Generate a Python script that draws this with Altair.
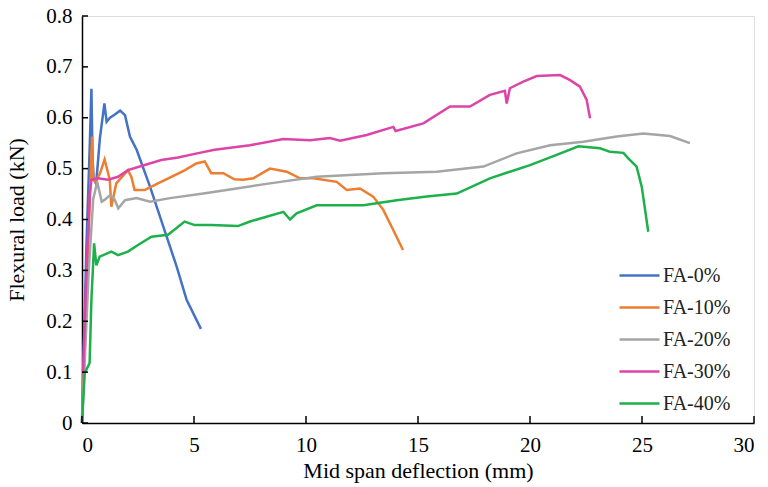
import altair as alt
import pandas as pd

# ---- data ----
fa0_x = [0.0, 0.05, 0.2, 0.35, 0.42, 0.47, 0.52, 0.63, 0.8, 1.0, 1.1, 1.25, 1.45, 1.7, 1.92, 2.14, 2.44, 3.04, 3.63, 4.23, 4.67, 5.31]
fa0_y = [0.0, 0.1, 0.35, 0.55, 0.657, 0.52, 0.48, 0.47, 0.56, 0.628, 0.592, 0.60, 0.606, 0.614, 0.605, 0.563, 0.537, 0.464, 0.386, 0.307, 0.242, 0.185]

fa10_x = [0.0, 0.1, 0.3, 0.45, 0.5, 0.6, 0.8, 1.01, 1.24, 1.31, 1.53, 2.05, 2.2, 2.35, 2.8, 3.39, 3.99, 4.6, 5.1, 5.48, 5.77, 6.31, 6.8, 7.2, 7.65, 8.39, 9.14, 9.73, 10.33, 11.37, 11.82, 12.41, 13.0, 13.45, 13.9, 14.33]
fa10_y = [0.0, 0.12, 0.38, 0.563, 0.478, 0.475, 0.49, 0.518, 0.478, 0.425, 0.471, 0.497, 0.484, 0.458, 0.458, 0.471, 0.484, 0.497, 0.51, 0.514, 0.491, 0.491, 0.479, 0.478, 0.481, 0.50, 0.494, 0.481, 0.481, 0.474, 0.458, 0.461, 0.445, 0.419, 0.379, 0.34]

fa20_x = [0.0, 0.1, 0.3, 0.5, 0.68, 0.88, 1.05, 1.25, 1.45, 1.62, 1.92, 2.44, 3.04, 3.93, 5.42, 6.9, 8.39, 10.48, 13.45, 15.83, 17.92, 19.4, 20.9, 22.38, 23.87, 25.06, 26.25, 27.14]
fa20_y = [0.0, 0.1, 0.3, 0.44, 0.474, 0.435, 0.44, 0.448, 0.44, 0.422, 0.438, 0.442, 0.435, 0.442, 0.451, 0.461, 0.471, 0.484, 0.491, 0.494, 0.504, 0.53, 0.546, 0.553, 0.563, 0.569, 0.564, 0.55]

fa30_x = [0.0, 0.05, 0.2, 0.35, 0.42, 0.71, 1.16, 1.61, 2.05, 2.8, 3.54, 4.29, 5.03, 5.92, 7.5, 8.99, 10.18, 11.07, 11.52, 12.71, 13.9, 14.0, 15.24, 16.43, 17.32, 18.21, 18.88, 18.96, 19.1, 19.7, 20.3, 21.34, 21.79, 22.23, 22.53, 22.68]
fa30_y = [0.1, 0.1, 0.3, 0.45, 0.478, 0.481, 0.478, 0.484, 0.497, 0.507, 0.517, 0.522, 0.529, 0.537, 0.546, 0.558, 0.556, 0.56, 0.555, 0.566, 0.582, 0.574, 0.589, 0.622, 0.622, 0.645, 0.653, 0.628, 0.658, 0.671, 0.682, 0.684, 0.674, 0.661, 0.635, 0.599]

fa40_x = [0.0, 0.12, 0.34, 0.42, 0.54, 0.64, 0.79, 1.31, 1.61, 2.05, 2.5, 3.1, 3.84, 4.58, 5.03, 5.77, 6.96, 7.5, 8.99, 9.29, 9.58, 10.48, 12.56, 14.05, 15.39, 16.73, 18.21, 20.0, 21.19, 22.16, 23.13, 23.57, 24.17, 24.39, 24.76, 24.99, 25.28]
fa40_y = [0.0, 0.098, 0.118, 0.242, 0.353, 0.31, 0.327, 0.337, 0.33, 0.337, 0.35, 0.366, 0.37, 0.396, 0.389, 0.389, 0.387, 0.396, 0.415, 0.4, 0.412, 0.428, 0.428, 0.438, 0.445, 0.451, 0.481, 0.507, 0.527, 0.544, 0.54, 0.533, 0.531, 0.52, 0.504, 0.464, 0.376]

series_names = ["FA-0%", "FA-10%", "FA-20%", "FA-30%", "FA-40%"]
series_colors = ["#4472C4", "#ED7D31", "#A5A5A5", "#DD44A8", "#1DB04B"]
x_ticks = [0, 5, 10, 15, 20, 25, 30]
y_ticks = [0, 0.1, 0.2, 0.3, 0.4, 0.5, 0.6, 0.7, 0.8]

rows = []
for name, xs, ys in zip(series_names,
                        [fa0_x, fa10_x, fa20_x, fa30_x, fa40_x],
                        [fa0_y, fa10_y, fa20_y, fa30_y, fa40_y]):
    for i, (xv, yv) in enumerate(zip(xs, ys)):
        rows.append({"series": name, "order": i, "x": xv, "y": yv})
df = pd.DataFrame(rows)

FONT = "Liberation Serif"
W, H = 672, 407

xscale = alt.Scale(domain=[0, 30], nice=False, zero=True)
yscale = alt.Scale(domain=[0, 0.8], nice=False, zero=True)

lines = alt.Chart(df).mark_line(strokeWidth=2.5).encode(
    x=alt.X("x:Q", scale=xscale,
            axis=alt.Axis(title="Mid span deflection (mm)", values=x_ticks, format="d",
                          grid=False, ticks=False, domainColor="black", domainWidth=1.5,
                          labelFont=FONT, labelFontSize=21, labelColor="black", labelPadding=11,
                          titleFont=FONT, titleFontSize=22, titleFontWeight="normal",
                          titleColor="black", titlePadding=5)),
    y=alt.Y("y:Q", scale=yscale,
            axis=alt.Axis(title="Flexural load (kN)", values=y_ticks, format=".1~f",
                          grid=False, ticks=False, domainColor="black", domainWidth=1.5,
                          labelFont=FONT, labelFontSize=21, labelColor="black", labelPadding=10,
                          titleFont=FONT, titleFontSize=22, titleFontWeight="normal",
                          titleColor="black", titlePadding=17)),
    color=alt.Color("series:N", scale=alt.Scale(domain=series_names, range=series_colors),
                    legend=alt.Legend(title=None, orient="none", legendX=536, legendY=238,
                                      symbolType="stroke", symbolSize=1600, symbolStrokeWidth=2.5,
                                      labelFont=FONT, labelFontSize=20, labelColor="#222222",
                                      labelOffset=2, rowPadding=-9)),
    order="order:Q",
)

xt = pd.DataFrame({"v": x_ticks})
yt = pd.DataFrame({"v": y_ticks})
xtick_marks = alt.Chart(xt).mark_rule(color="black", strokeWidth=1.5).encode(
    x=alt.X("v:Q", scale=xscale), y=alt.value(H), y2=alt.value(H - 7))
ytick_marks = alt.Chart(yt).mark_rule(color="black", strokeWidth=1.5).encode(
    y=alt.Y("v:Q", scale=yscale), x=alt.value(0), x2=alt.value(6))

chart = alt.layer(lines, xtick_marks, ytick_marks).properties(
    width=W, height=H,
    autosize=alt.AutoSizeParams(type="none"),
    padding={"left": 82, "top": 16, "right": 14, "bottom": 64},
).configure_view(stroke="#333333", strokeWidth=1.5).configure(background="white")

chart.save("out.html", embed_options={"renderer": "svg", "actions": False})
